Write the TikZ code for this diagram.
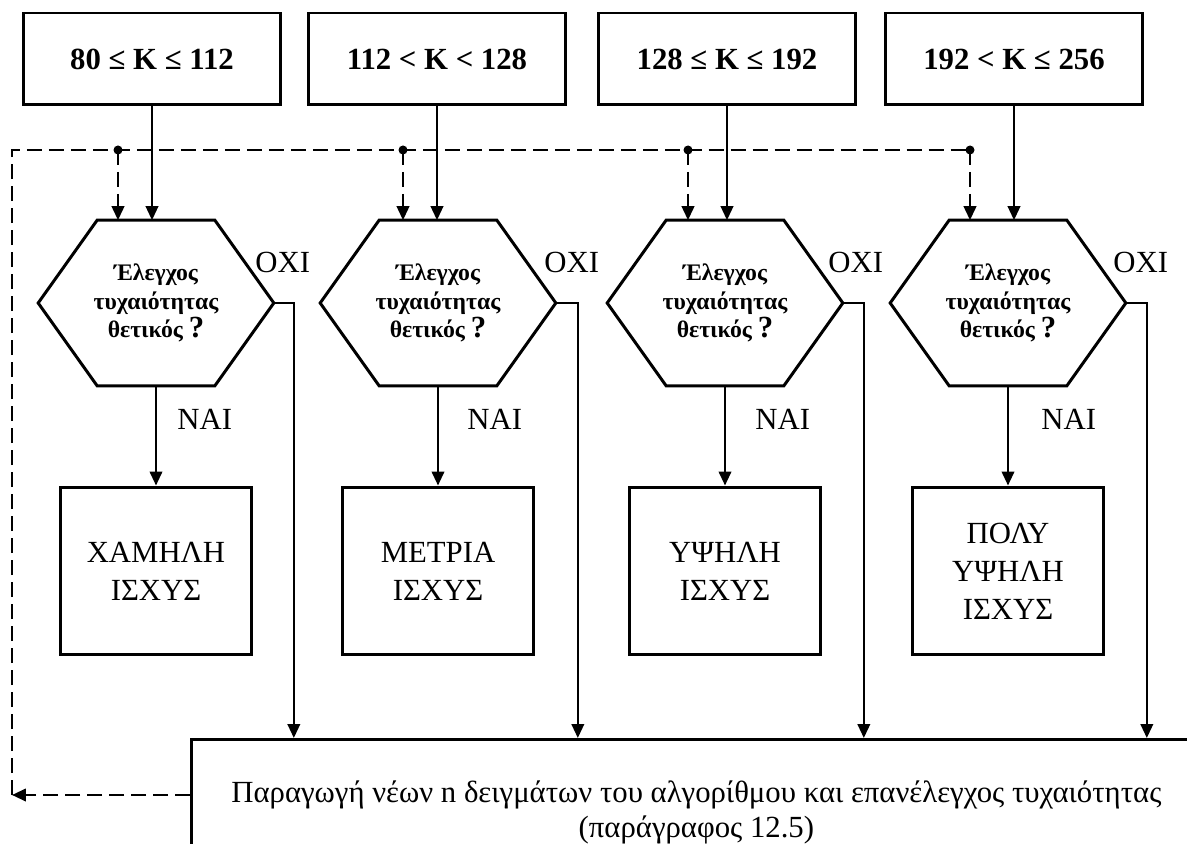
\documentclass[tikz,border=0pt]{standalone}
\usepackage{fontspec}
\setmainfont{Liberation Serif}
\usetikzlibrary{arrows.meta}

\begin{document}
\begin{tikzpicture}[x=0.02cm, y=-0.02cm]
        \tikzset{box/.style={draw, line width=1.7pt, inner sep=0pt, align=center},
                 krange/.style={box, minimum width=5.16cm, minimum height=1.84cm, font=\fontsize{17.5}{21}\selectfont\bfseries},
                 power/.style={box, minimum width=3.82cm, minimum height=3.36cm, font=\fontsize{17.5}{21.6}\selectfont},
                 test/.style={minimum width=4.7cm, minimum height=3.3cm, inner sep=0pt, align=center, font=\fontsize{13.5}{16}\selectfont\bfseries},
                 answer/.style={anchor=west, inner sep=0pt, font=\fontsize{17.5}{21}\selectfont},
                 flow/.style={line width=1.3pt, -{Triangle[length=0.28cm, width=0.25cm]}},
                 dashline/.style={line width=1.4pt, dash pattern=on 0.3cm off 0.14cm},
                 back/.style={dashline, -{Triangle[length=0.28cm, width=0.25cm]}}}
        \clip (0,0) rectangle (1187,844);
        % ranges of K
        \node[krange] (t1) at (152, 59) {80 ≤ K ≤ 112};
        \node[krange] (t2) at (437, 59) {112 < K < 128};
        \node[krange] (t3) at (727, 59) {128 ≤ K ≤ 192};
        \node[krange] (t4) at (1014, 59) {192 < K ≤ 256};
        % randomness tests
        \node[test] (h1) at (156, 303) {Έλεγχος\\τυχαιότητας\\θετικός {\fontsize{17.5}{16}\selectfont ?}};
        \node[test] (h2) at (438, 303) {Έλεγχος\\τυχαιότητας\\θετικός {\fontsize{17.5}{16}\selectfont ?}};
        \node[test] (h3) at (725, 303) {Έλεγχος\\τυχαιότητας\\θετικός {\fontsize{17.5}{16}\selectfont ?}};
        \node[test] (h4) at (1008, 303) {Έλεγχος\\τυχαιότητας\\θετικός {\fontsize{17.5}{16}\selectfont ?}};
        \foreach \h in {h1, h2, h3, h4}
            \draw[line width=1.7pt, line join=miter] (\h.west) -- ([xshift=1.18cm]\h.north west) -- ([xshift=-1.18cm]\h.north east)
                -- (\h.east) -- ([xshift=-1.18cm]\h.south east) -- ([xshift=1.18cm]\h.south west) -- cycle;
        % results
        \node[power] (p1) at (156, 571) {ΧΑΜΗΛΗ\\ΙΣΧΥΣ};
        \node[power] (p2) at (438, 571) {ΜΕΤΡΙΑ\\ΙΣΧΥΣ};
        \node[power] (p3) at (725, 571) {ΥΨΗΛΗ\\ΙΣΧΥΣ};
        \node[power] (p4) at (1008, 571) {ΠΟΛΥ\\ΥΨΗΛΗ\\ΙΣΧΥΣ};
        \node[box, anchor=north west, minimum width=20.2cm, minimum height=2.92cm, font=\fontsize{17.5}{20}\selectfont] (regen) at (190, 738)
            {Παραγωγή νέων n δειγμάτων του αλγορίθμου και επανέλεγχος τυχαιότητας\\(παράγραφος 12.5)};
        % labels
        \node[answer] (y1) at (177, 419) {ΝΑΙ};
        \node[answer] (y2) at (467, 419) {ΝΑΙ};
        \node[answer] (y3) at (755, 419) {ΝΑΙ};
        \node[answer] (y4) at (1041, 419) {ΝΑΙ};
        \node[answer] (n1) at (255, 262) {ΟΧΙ};
        \node[answer] (n2) at (544, 262) {ΟΧΙ};
        \node[answer] (n3) at (828, 262) {ΟΧΙ};
        \node[answer] (n4) at (1113, 262) {ΟΧΙ};
        % solid connectors
        \draw[flow] (t1.south) -- (t1.south |- h1.north);
        \draw[flow] (t2.south) -- (t2.south |- h2.north);
        \draw[flow] (t3.south) -- (t3.south |- h3.north);
        \draw[flow] (t4.south) -- (t4.south |- h4.north);
        \draw[flow] (h1.south) -- (p1.north);
        \draw[flow] (h2.south) -- (p2.north);
        \draw[flow] (h3.south) -- (p3.north);
        \draw[flow] (h4.south) -- (p4.north);
        \draw[flow] (h1.east) -| ([xshift=0.4cm]h1.east |- regen.north);
        \draw[flow] (h2.east) -| ([xshift=0.44cm]h2.east |- regen.north);
        \draw[flow] (h3.east) -| ([xshift=0.42cm]h3.east |- regen.north);
        \draw[flow] (h4.east) -| ([xshift=0.42cm]h4.east |- regen.north);
        % dashed return path
        \coordinate (ret) at (12, 795);
        \coordinate (d1) at (118, 150);
        \coordinate (d2) at (403, 150);
        \coordinate (d3) at (688, 150);
        \coordinate (d4) at (970, 150);
        \draw[back] (regen.west |- ret) -- (ret);
        \draw[dashline] (ret) -- (ret |- d1) -- (d4);
        \draw[back] (d1) -- (d1 |- h1.north);
        \draw[back] (d2) -- (d2 |- h2.north);
        \draw[back] (d3) -- (d3 |- h3.north);
        \draw[back] (d4) -- (d4 |- h4.north);
        \fill (d1) circle [radius=0.09cm];
        \fill (d2) circle [radius=0.09cm];
        \fill (d3) circle [radius=0.09cm];
        \fill (d4) circle [radius=0.09cm];
\end{tikzpicture}
\end{document}
